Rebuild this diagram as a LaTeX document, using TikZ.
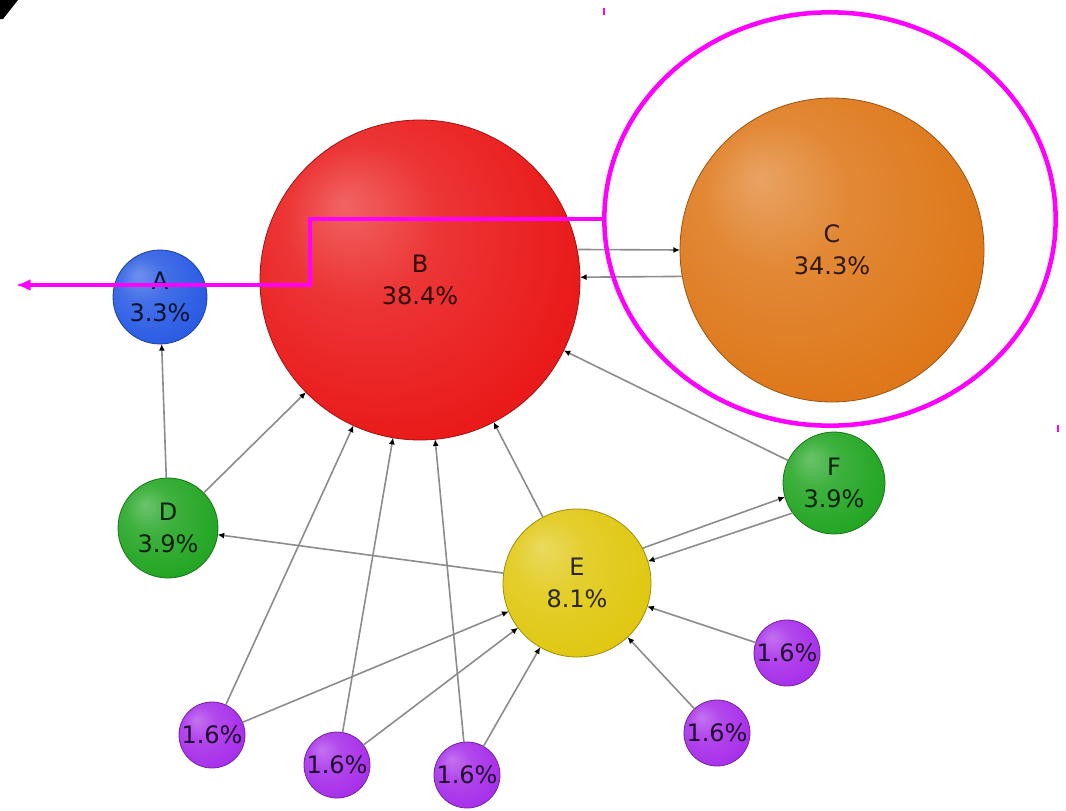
\documentclass[tikz,border=0pt]{standalone}
\usepackage{fontspec}
\setmainfont{DejaVu Sans}
\usetikzlibrary{arrows.meta,shapes.geometric}
\definecolor{cA}{RGB}{42,92,228}
\definecolor{cB}{RGB}{234,26,26}
\definecolor{cC}{RGB}{222,120,26}
\definecolor{cG}{RGB}{36,166,36}
\definecolor{cE}{RGB}{224,200,18}
\definecolor{cP}{RGB}{168,48,234}
\definecolor{lnkgray}{RGB}{140,140,140}
\definecolor{hlmag}{RGB}{255,0,255}
\pgfdeclareradialshading[sphcol]{sphere}{\pgfpoint{-12bp}{12bp}}{color(0bp)=(sphcol!68!white); color(12bp)=(sphcol!88!white); color(30bp)=(sphcol); color(46bp)=(sphcol!92!black); color(50bp)=(sphcol!72!black)}
\tikzset{
  sph/.style 2 args={circle, inner sep=0pt, outer sep=0pt, minimum size=#1*1.5pt,
    /utils/exec={\colorlet{sphcol}{#2}}, shading=sphere,
    draw=#2!70!black, line width=0.6pt, text=#2!20!black, align=center,
    font=\fontsize{18}{24}\selectfont},
  lnk/.style={draw=lnkgray, line width=1.2pt, -{Latex[length=5pt,width=4.5pt,color=black]}},
  mag/.style={draw=hlmag, line width=3pt},
}
\begin{document}
\begin{tikzpicture}[x=0.75pt,y=-0.75pt]
\useasboundingbox (0,0) rectangle (1066,810);
\fill[white] (0,0) rectangle (1066,810);
% spheres
\node[sph={47}{cA}] (A) at (160,297) {A\\3.3\%};
\node[sph={160}{cB}] (B) at (420,280) {B\\38.4\%};
\node[sph={152}{cC}] (C) at (832,250) {C\\34.3\%};
\node[sph={50}{cG}] (D) at (168,528) {D\\3.9\%};
\node[sph={74}{cE}] (E) at (577,583) {E\\8.1\%};
\node[sph={51}{cG}] (F) at (834,483) {F\\3.9\%};
\node[sph={33}{cP}] (P1) at (212,735) {1.6\%};
\node[sph={33}{cP}] (P2) at (337,765) {1.6\%};
\node[sph={33}{cP}] (P3) at (467,775) {1.6\%};
\node[sph={33}{cP}] (P4) at (717,733) {1.6\%};
\node[sph={33}{cP}] (P5) at (787,653) {1.6\%};
% links
\draw[lnk] (B.11) -- (C.180);
\draw[lnk] (C.190) -- (B.1);
\draw[lnk] (D) -- (A);
\draw[lnk] (D) -- (B);
\draw[lnk] (E) -- (D);
\draw[lnk] (E) -- (B);
\draw[lnk] (E.28) -- (F.196);
\draw[lnk] (F.216) -- (E.17);
\draw[lnk] (F) -- (B);
\draw[lnk] (P1) -- (B);
\draw[lnk] (P1) -- (E);
\draw[lnk] (P2) -- (B);
\draw[lnk] (P2) -- (E);
\draw[lnk] (P3) -- (B);
\draw[lnk] (P3) -- (E);
\draw[lnk] (P4) -- (E);
\draw[lnk] (P5) -- (E);
% annotations
\node[ellipse, draw=hlmag, line width=3.4pt, inner sep=0pt, outer sep=0pt,
      minimum width=338.5pt, minimum height=310pt] (hl) at (830,219) {};
\coordinate (tip) at (16,285);
\draw[mag, -{Latex[length=11pt,width=9pt]}] (hl.west) -- (310,219) -- (310,285) -- (tip);
\draw[hlmag, line width=1.2pt] (604,8) -- (604,15);
\draw[hlmag, line width=1.2pt] (1058,425) -- (1058,432);
\fill[black] (0,0) -- (18,0) -- (3,19) -- (0,19) -- cycle;
\end{tikzpicture}
\end{document}
